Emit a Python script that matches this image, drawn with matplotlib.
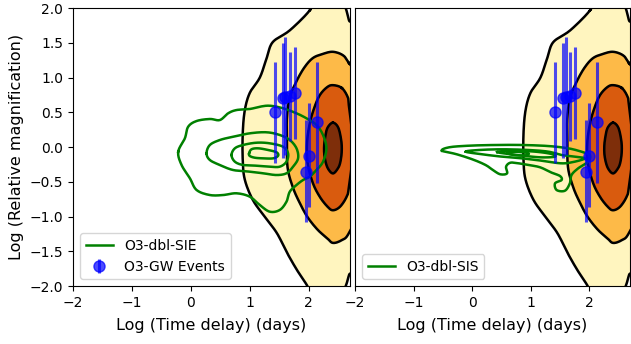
import numpy as np
import matplotlib
matplotlib.use('Agg')
import matplotlib.pyplot as plt

# GW event points (log time delay, log relative magnification) with asymmetric errors
ev_x = [1.42, 1.56, 1.60, 1.68, 1.76, 2.14, 2.00, 1.95]
ev_y = [0.50, 0.70, 0.72, 0.74, 0.78, 0.36, -0.13, -0.36]
ev_hi = [1.23, 1.50, 1.58, 1.37, 1.44, 1.22, 0.63, 0.39]
ev_lo = [-0.23, -0.16, -0.12, 0.08, 0.12, -0.52, -0.86, -1.08]

# background population contour outlines (x, y), outer to inner
pop1_x = [2.02, 1.68, 1.39, 1.29, 1.17, 1.00, 0.915, 0.88, 0.88, 0.915, 1.05, 1.25, 1.46, 1.63, 1.80,
          1.97, 2.10, 2.40, 2.60, 2.68, 2.75, 2.80, 2.75, 2.68, 2.60, 2.40, 2.10]
pop1_y = [1.97, 1.68, 1.51, 1.29, 1.00, 0.78, 0.53, 0.20, -0.19, -0.47, -0.76, -1.00, -1.24, -1.52, -1.77,
          -1.99, -2.20, -2.30, -2.05, -1.85, -1.60, 0.0, 1.60, 1.83, 2.05, 2.30, 2.15]
pop2_x = [2.68, 2.58, 2.41, 2.24, 2.07, 1.93, 1.80, 1.68, 1.63, 1.63, 1.64, 1.73, 1.85, 1.98, 2.15, 2.31,
          2.41, 2.56, 2.68, 2.90, 3.00, 2.90]
pop2_y = [1.21, 1.32, 1.37, 1.34, 1.28, 1.15, 0.96, 0.72, 0.43, 0.10, -0.29, -0.58, -0.81, -1.01, -1.19, -1.31,
          -1.38, -1.34, -1.24, -0.80, 0.0, 0.90]
pop3_x = [2.56, 2.41, 2.31, 2.19, 2.10, 2.02, 1.97, 1.98, 2.07, 2.19, 2.32, 2.41, 2.53, 2.64, 2.68, 2.75,
          2.68, 2.66]
pop3_y = [0.85, 0.89, 0.86, 0.75, 0.58, 0.35, 0.06, -0.23, -0.52, -0.72, -0.86, -0.91, -0.86, -0.72, -0.58, 0.0,
          0.60, 0.72]
pop4_x = [2.41, 2.50, 2.55, 2.56, 2.54, 2.50, 2.41, 2.32, 2.27, 2.26, 2.28, 2.32]
pop4_y = [0.35, 0.28, 0.10, -0.05, -0.20, -0.30, -0.38, -0.30, -0.15, 0.0, 0.15, 0.28]

# O3-dbl-SIE contours
sie1_x = [-0.215, -0.102, -0.046, 0.097, 0.322, 0.492, 0.632, 0.775, 1.0, 1.17, 1.34, 1.564, 1.792, 1.961,
          2.131, 2.242, 2.30, 2.242, 2.131, 2.017, 1.903, 1.792, 1.678, 1.622, 1.508, 1.339, 1.169, 1.0,
          0.775, 0.547, 0.322, 0.097, -0.017, -0.158]
sie1_y = [-0.068, 0.125, 0.292, 0.374, 0.403, 0.388, 0.485, 0.532, 0.547, 0.580, 0.594, 0.557, 0.485, 0.413,
          0.317, 0.173, -0.019, -0.212, -0.331, -0.427, -0.475, -0.547, -0.643, -0.787, -0.906, -0.931, -0.835,
          -0.715, -0.666, -0.691, -0.691, -0.619, -0.450, -0.259]
sie2_x = [0.266, 0.322, 0.492, 0.717, 1.0, 1.283, 1.508, 1.678, 1.792, 1.819, 1.734, 1.622, 1.453, 1.225,
          1.0, 0.717, 0.492, 0.322]
sie2_y = [-0.091, 0.029, 0.101, 0.148, 0.197, 0.212, 0.173, 0.101, -0.019, -0.163, -0.283, -0.378, -0.403,
          -0.378, -0.355, -0.331, -0.259, -0.187]
sie3_x = [0.690, 0.746, 0.886, 1.114, 1.339, 1.564, 1.649, 1.622, 1.508, 1.339, 1.114, 0.886, 0.746]
sie3_y = [-0.115, -0.019, 0.029, 0.062, 0.053, 0.004, -0.091, -0.211, -0.283, -0.283, -0.269, -0.259, -0.211]
sie4_x = [0.988, 1.029, 1.141, 1.31, 1.453, 1.48, 1.395, 1.225, 1.085, 1.0]
sie4_y = [-0.091, -0.033, -0.019, -0.043, -0.076, -0.125, -0.163, -0.163, -0.154, -0.129]

# O3-dbl-SIS contours
sis1_x = [-0.514, -0.39, -0.051, 0.402, 0.853, 1.305, 1.644, 1.87, 2.012, 1.983, 1.814, 1.701, 1.672, 1.588,
          1.446, 1.419, 1.531, 1.503, 1.361, 1.164, 0.966, 0.797, 0.656, 0.582, 0.599, 0.486, 0.373, 0.232,
          0.005, -0.276]
sis1_y = [-0.053, -0.004, 0.019, 0.029, 0.029, 0.014, -0.019, -0.067, -0.115, -0.211, -0.307, -0.403, -0.523,
          -0.629, -0.619, -0.523, -0.475, -0.417, -0.369, -0.292, -0.259, -0.235, -0.226, -0.283, -0.379,
          -0.393, -0.341, -0.259, -0.177, -0.101]
sis2_x = [-0.107, 0.119, 0.514, 0.966, 1.305, 1.531, 1.757, 1.927, 1.757, 1.531, 1.192, 0.853, 0.514, 0.175]
sis2_y = [-0.067, -0.043, -0.033, -0.043, -0.067, -0.115, -0.139, -0.163, -0.211, -0.235, -0.197, -0.163,
          -0.139, -0.105]
sis3_x = [0.429, 0.683, 1.079, 1.361, 1.419, 1.192, 0.910, 0.627]
sis3_y = [-0.072, -0.053, -0.067, -0.101, -0.139, -0.149, -0.129, -0.101]
sis4_x = [0.599, 0.797, 0.966, 0.910, 0.712]
sis4_y = [-0.082, -0.072, -0.091, -0.120, -0.115]

pop_levels = [(pop1_x, pop1_y), (pop2_x, pop2_y), (pop3_x, pop3_y), (pop4_x, pop4_y)]
pop_colors = ['#fff5bf', '#fdba48', '#d95b0e', '#7e2e0a']
sie_levels = [(sie1_x, sie1_y), (sie2_x, sie2_y), (sie3_x, sie3_y), (sie4_x, sie4_y)]
sis_levels = [(sis1_x, sis1_y), (sis2_x, sis2_y), (sis3_x, sis3_y), (sis4_x, sis4_y)]


def smooth_closed(xs, ys, n=12):
    # closed Catmull-Rom curve through the traced outline points
    p = np.column_stack([xs, ys])
    m = len(p)
    t = np.linspace(0, 1, n, endpoint=False)[:, None]
    out = []
    for i in range(m):
        p0, p1, p2, p3 = p[i - 1], p[i], p[(i + 1) % m], p[(i + 2) % m]
        seg = 0.5 * ((2 * p1) + (-p0 + p2) * t + (2 * p0 - 5 * p1 + 4 * p2 - p3) * t ** 2
                     + (-p0 + 3 * p1 - 3 * p2 + p3) * t ** 3)
        out.append(seg)
    out = np.vstack(out + [p[:1]])
    return out[:, 0], out[:, 1]


def draw_panel(ax, lens_levels, label):
    for (px, py), c in zip(pop_levels, pop_colors):
        cx, cy = smooth_closed(px, py)
        ax.fill(cx, cy, color=c, zorder=1)
        ax.plot(cx, cy, color='black', lw=1.8, zorder=2)
    for i, (lx, ly) in enumerate(lens_levels):
        cx, cy = smooth_closed(lx, ly)
        ax.plot(cx, cy, color='green', lw=1.8, zorder=3, label=label if i == 0 else None)
    yerr = [np.array(ev_y) - np.array(ev_lo), np.array(ev_hi) - np.array(ev_y)]
    eb = ax.errorbar(ev_x, ev_y, yerr=yerr, fmt='o', color='blue', alpha=0.7, ms=8,
                     elinewidth=2.2, capsize=0, zorder=4)
    ax.set_xlim(-2, 2.7)
    ax.set_ylim(-2, 2)
    ax.set_xticks([-2, -1, 0, 1, 2])
    ax.set_xlabel('Log (Time delay) (days)', fontsize=11.5, labelpad=6)
    ax.tick_params(labelsize=10)
    return eb


fig = plt.figure(figsize=(6.31, 3.44), dpi=100)
ax1 = fig.add_axes([0.1157, 0.1686, 0.439, 0.8081])
ax2 = fig.add_axes([0.5626, 0.1686, 0.4358, 0.8081])

eb = draw_panel(ax1, sie_levels, 'O3-dbl-SIE')
eb.set_label('O3-GW Events')
ax1.set_yticks([-2.0, -1.5, -1.0, -0.5, 0.0, 0.5, 1.0, 1.5, 2.0])
ax1.set_ylabel('Log (Relative magnification)', fontsize=11.5)
ax1.legend(loc='lower left', fontsize=10)

draw_panel(ax2, sis_levels, 'O3-dbl-SIS')
ax2.tick_params(left=False, labelleft=False)
ax2.legend(loc='lower left', fontsize=10)

fig.savefig('out.png', dpi=100)
